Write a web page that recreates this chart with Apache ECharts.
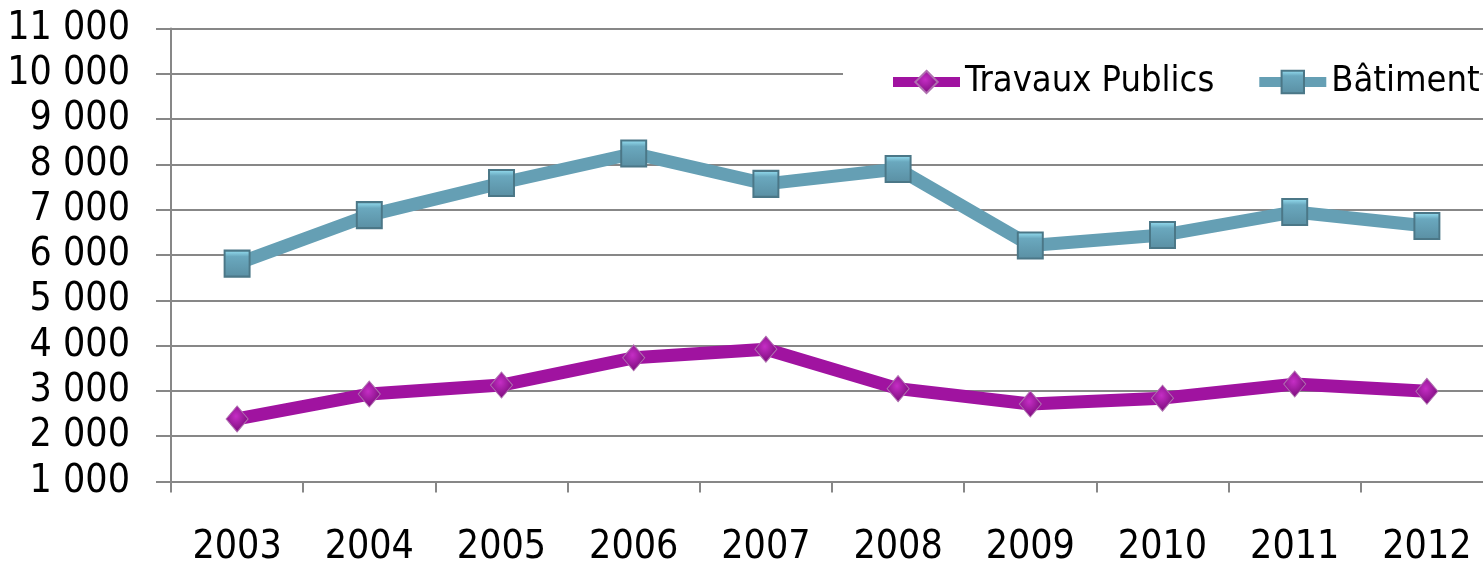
<!DOCTYPE html>
<html>
<head>
<meta charset="utf-8">
<script src="https://cdn.jsdelivr.net/npm/echarts@6/dist/echarts.min.js"></script>
<style>
  html, body { margin: 0; padding: 0; background: #fff; }
  #chart { width: 1483px; height: 564px; }
</style>
</head>
<body>
<div id="chart"></div>
<script>
// années
const years = ['2003', '2004', '2005', '2006', '2007', '2008', '2009', '2010', '2011', '2012']
// valeurs
const travauxPublics = [2380, 2930, 3130, 3730, 3920, 3050, 2710, 2840, 3150, 2990]
const batiment = [5810, 6880, 7590, 8240, 7570, 7900, 6210, 6440, 6950, 6640]

const FONT = '"DejaVu Sans Condensed", "DejaVu Sans", sans-serif'
const GRID_COLOR = '#878787'
const TP_COLOR = '#A013A0'
const BAT_COLOR = '#659FB4'

const chart = echarts.init(document.getElementById('chart'))

// séparateur de milliers "11 000"
function fmt(v) {
  return String(v).replace(/\B(?=(\d{3})+(?!\d))/g, ' ')
}

const tpItem = {
  color: new echarts.graphic.RadialGradient(0.45, 0.4, 0.6, [
    { offset: 0, color: '#C52EC5' },
    { offset: 1, color: '#7A0B7A' }
  ]),
  borderColor: '#B070B0',
  borderWidth: 1
}
const batItem = {
  color: new echarts.graphic.LinearGradient(0, 0, 0, 1, [
    { offset: 0, color: '#9BE6F8' },
    { offset: 0.25, color: '#6AA8BE' },
    { offset: 1, color: '#5A8FA3' }
  ]),
  borderColor: '#4B7787',
  borderWidth: 2
}

const option = {
  backgroundColor: '#fff',
  animation: false,
  grid: {
    left: 171,
    right: -10,
    top: 28.5,
    bottom: 82.5,
    outerBoundsMode: 'none' // pas de réduction automatique de la grille
  },
  legend: {
    left: 843,
    top: 58,
    width: 700, // évite le retour à la ligne
    padding: [6, 0, 6, 45],
    backgroundColor: '#fff',
    itemWidth: 67,
    itemHeight: 28,
    itemGap: 40,
    textStyle: {
      fontFamily: FONT,
      fontSize: 36,
      color: '#000'
    },
    data: [
      { name: 'Travaux Publics', lineStyle: { width: 10, color: TP_COLOR } },
      { name: 'Bâtiment', lineStyle: { width: 10, color: BAT_COLOR } }
    ]
  },
  xAxis: {
    type: 'category',
    data: years,
    boundaryGap: true,
    axisLine: { lineStyle: { color: GRID_COLOR, width: 2 } },
    axisTick: { show: true, length: 11, lineStyle: { color: GRID_COLOR, width: 2 } },
    axisLabel: {
      margin: 47,
      fontFamily: FONT,
      fontSize: 39,
      color: '#000'
    },
    splitLine: { show: false }
  },
  yAxis: {
    type: 'value',
    min: 1000,
    max: 11000,
    interval: 1000,
    axisLine: { show: true, lineStyle: { color: GRID_COLOR, width: 2 } },
    axisTick: { show: true, length: 15, lineStyle: { color: GRID_COLOR, width: 2 } },
    axisLabel: {
      margin: 41,
      fontFamily: FONT,
      fontSize: 39,
      color: '#000',
      formatter: fmt
    },
    splitLine: { show: true, lineStyle: { color: GRID_COLOR, width: 2 } }
  },
  series: [
    {
      name: 'Travaux Publics',
      type: 'line',
      data: travauxPublics,
      symbol: 'diamond',
      symbolSize: [22, 26],
      lineStyle: { color: TP_COLOR, width: 13 },
      itemStyle: tpItem,
      z: 3
    },
    {
      name: 'Bâtiment',
      type: 'line',
      data: batiment,
      symbol: 'rect',
      symbolSize: [25, 26],
      lineStyle: { color: BAT_COLOR, width: 13 },
      itemStyle: batItem,
      z: 3
    }
  ]
}

chart.setOption(option)
</script>
</body>
</html>
